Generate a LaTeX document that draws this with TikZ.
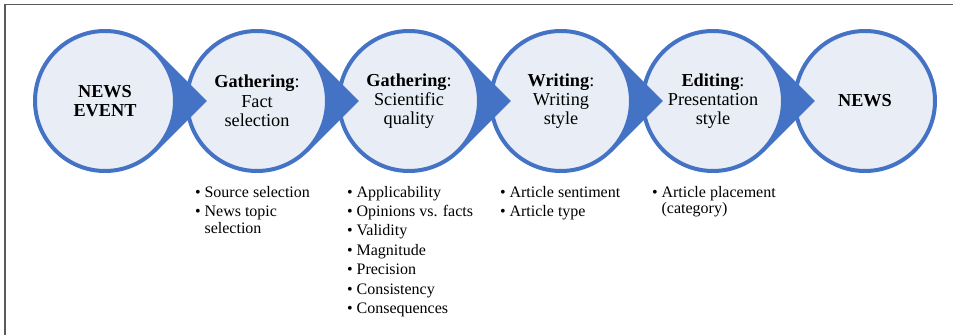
\documentclass[tikz,border=0pt]{standalone}
\usepackage{fontspec}
\setmainfont{Liberation Serif}[Ligatures=TeX]
\newfontfamily\timesface{Liberation Serif}
\usetikzlibrary{calc}
\definecolor{ringblue}{HTML}{4472C4}
\definecolor{ringfill}{HTML}{E9EEF6}
\definecolor{framegray}{HTML}{5A5A5A}
\begin{document}
\begin{tikzpicture}[x=0.75pt,y=0.75pt,
  stage/.style={circle, draw=ringblue, fill=ringfill, line width=3pt,
    minimum size=105pt, inner sep=0pt, outer sep=0pt, align=center,
    font=\timesface\fontsize{13.7}{14.5}\selectfont},
  pointer/.style={fill=ringblue},
  notes/.style={anchor=base west, inner sep=0pt, outer sep=0pt,
    font=\timesface\fontsize{12}{12.5}\selectfont}]
\useasboundingbox (0,0) rectangle (953,-335);
% frame
\begin{scope}
  \clip (0,0) rectangle (953,-335);
  \draw[framegray, line width=1.1pt] (5,-4.5) rectangle (970,-350);
\end{scope}

% process stages
\node[stage] (c1) at (105,-101) {\textbf{NEWS}\\\textbf{EVENT}};
\node[stage] (c2) at (257,-101) {\textbf{Gathering}:\\Fact\\selection};
\node[stage] (c3) at (409,-101) {\textbf{Gathering}:\\Scientific\\quality};
\node[stage] (c4) at (561,-101) {\textbf{Writing}:\\Writing\\style};
\node[stage] (c5) at (713,-101) {\textbf{Editing}:\\Presentation\\style};
\node[stage] (c6) at (865,-101) {\textbf{NEWS}};

% pointed tips leading into the next stage
\foreach \i in {1,...,5}{
  \fill[pointer] ($(c\i.center)+(45:72)$) -- ($(c\i.center)+(101.8,0)$)
    -- ($(c\i.center)+(-45:72)$) -- ($(c\i.center)+(-45:70)$)
    arc[start angle=-45, end angle=45, radius=70] -- cycle;
}

% bullet notes under the stages
\node[notes] (n2) at (195,-197) {\begin{tabular}[t]{@{}l@{\hspace{3pt}}l@{}}
  •&Source selection\\[2.05pt]
  •&News topic\\
   &selection
\end{tabular}};
\node[notes] (n3) at (347,-197) {\begin{tabular}[t]{@{}l@{\hspace{3pt}}l@{}}
  •&Applicability\\[2.05pt]
  •&Opinions vs. facts\\[2.05pt]
  •&Validity\\[2.05pt]
  •&Magnitude\\[2.05pt]
  •&Precision\\[2.05pt]
  •&Consistency\\[2.05pt]
  •&Consequences
\end{tabular}};
\node[notes] (n4) at (500,-197) {\begin{tabular}[t]{@{}l@{\hspace{3pt}}l@{}}
  •&Article sentiment\\[2.05pt]
  •&Article type
\end{tabular}};
\node[notes] (n5) at (652,-197) {\begin{tabular}[t]{@{}l@{\hspace{3pt}}l@{}}
  •&Article placement\\
   &(category)
\end{tabular}};
\end{tikzpicture}
\end{document}
